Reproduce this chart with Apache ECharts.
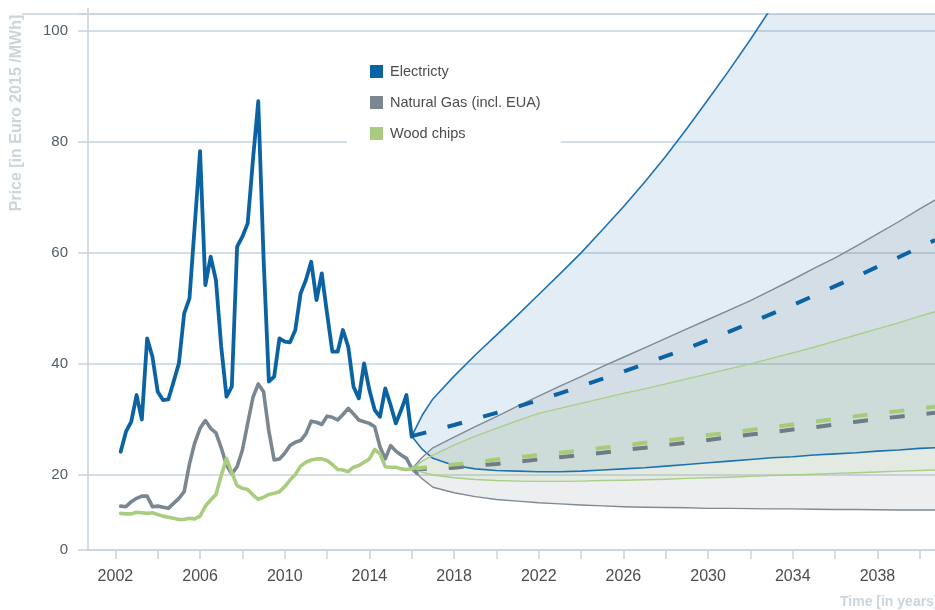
<!DOCTYPE html>
<html>
<head>
<meta charset="utf-8">
<script src="https://cdn.jsdelivr.net/npm/echarts@6/dist/echarts.min.js"></script>
<style>
  html, body { margin: 0; padding: 0; background: #ffffff; }
  #chart { width: 935px; height: 610px; }
</style>
</head>
<body>
<div id="chart"></div>
<script>
// ---- Historical quarterly prices (Euro 2015 / MWh) ----
const HIST_YEARS = [
  2002.25, 2002.5, 2002.75,
  2003, 2003.25, 2003.5, 2003.75,
  2004, 2004.25, 2004.5, 2004.75,
  2005, 2005.25, 2005.5, 2005.75,
  2006, 2006.25, 2006.5, 2006.75,
  2007, 2007.25, 2007.5, 2007.75,
  2008, 2008.25, 2008.5, 2008.75,
  2009, 2009.25, 2009.5, 2009.75,
  2010, 2010.25, 2010.5, 2010.75,
  2011, 2011.25, 2011.5, 2011.75,
  2012, 2012.25, 2012.5, 2012.75,
  2013, 2013.25, 2013.5, 2013.75,
  2014, 2014.25, 2014.5, 2014.75,
  2015, 2015.25, 2015.5, 2015.75,
  2016, 2016.25
];
const ELECTRICITY = [
  24.2, 27.8, 29.6, 34.4, 30.0, 44.6, 41.3, 35.0, 33.5, 33.6, 36.8, 40.1,
  49.1, 51.8, 65.0, 78.3, 54.2, 59.3, 55.1, 43.1, 34.1, 35.9, 61.1, 62.9,
  65.3, 76.8, 87.3, 59.0, 36.8, 37.7, 44.6, 44.0, 43.9, 46.1, 52.7, 55.1,
  58.4, 51.5, 56.3, 49.1, 42.2, 42.2, 46.1, 43.1, 35.9, 33.8, 40.1, 35.3,
  31.7, 30.5, 35.6, 32.6, 29.3, 31.7, 34.4, 26.9
];
const NATURAL_GAS = [
  14.4, 14.3, 15.2, 15.8, 16.2, 16.2, 14.3, 14.4, 14.2, 14.0, 14.9, 15.8,
  17.0, 22.0, 25.8, 28.4, 29.8, 28.4, 27.6, 24.9, 21.8, 20.2, 21.5, 24.5,
  29.3, 34.0, 36.4, 35.0, 27.9, 22.7, 22.9, 23.9, 25.3, 25.9, 26.2, 27.4,
  29.7, 29.5, 29.1, 30.6, 30.4, 29.9, 30.9, 32.0, 31.0, 29.9, 29.6, 29.3,
  28.7, 25.1, 22.9, 25.3, 24.3, 23.6, 23.0, 21.2, 20.3
];
const WOOD_CHIPS = [
  13.1, 13.0, 13.0, 13.3, 13.2, 13.1, 13.2, 12.9, 12.6, 12.4, 12.2, 12.0,
  12.0, 12.2, 12.1, 12.6, 14.4, 15.5, 16.5, 19.9, 23.0, 20.4, 18.1, 17.6,
  17.4, 16.4, 15.6, 16.0, 16.5, 16.7, 17.0, 17.9, 19.1, 20.1, 21.6, 22.3,
  22.7, 22.9, 22.9, 22.6, 21.9, 21.0, 20.9, 20.6, 21.4, 21.7, 22.3, 22.9,
  24.6, 23.8, 21.5, 21.4, 21.4, 21.1, 21.0, 21.1, 21.4
];

// ---- Projections: high / central / low paths ----
const PROJ_YEARS = [
  2016, 2016.5, 2017, 2018, 2019, 2020, 2021, 2022, 2023, 2024, 2025, 2026,
  2027, 2028, 2029, 2030, 2031, 2032, 2033, 2034, 2035, 2036, 2037, 2038,
  2039, 2040, 2040.72
];
const ELEC_HIGH = [27.0, 30.8, 33.7, 37.8, 41.6, 45.2, 48.8, 52.5, 56.2, 60.0, 64.1, 68.3, 72.7, 77.4, 82.4, 87.6, 92.9, 98.4, 104.2, 110.2, 116.4, 122.8, 129.4, 136.2, 143.2, 150.4, 155.7];
const ELEC_MID  = [27.0, 27.5, 28.0, 29.0, 30.1, 31.2, 32.3, 33.5, 34.7, 36.0, 37.3, 38.6, 40.0, 41.4, 42.8, 44.3, 45.8, 47.4, 49.0, 50.6, 52.3, 54.0, 55.7, 57.5, 59.2, 61.0, 62.3];
const ELEC_LOW  = [27.0, 24.6, 23.0, 21.7, 21.1, 20.8, 20.7, 20.6, 20.6, 20.7, 20.9, 21.1, 21.3, 21.6, 21.9, 22.2, 22.5, 22.8, 23.1, 23.3, 23.6, 23.8, 24.0, 24.3, 24.5, 24.8, 24.9];
const GAS_HIGH  = [21.1, 23.2, 24.9, 26.8, 28.7, 30.5, 32.4, 34.2, 36.0, 37.7, 39.5, 41.2, 42.9, 44.6, 46.3, 48.0, 49.7, 51.4, 53.3, 55.2, 57.2, 59.1, 61.2, 63.4, 65.6, 67.9, 69.5];
const GAS_MID   = [21.1, 21.1, 21.1, 21.3, 21.7, 22.0, 22.4, 22.8, 23.2, 23.6, 24.0, 24.5, 24.9, 25.4, 25.8, 26.3, 26.8, 27.3, 27.7, 28.2, 28.6, 29.1, 29.6, 30.1, 30.5, 30.9, 31.2];
const GAS_LOW   = [21.1, 19.3, 17.8, 16.8, 16.1, 15.6, 15.3, 15.0, 14.8, 14.6, 14.45, 14.3, 14.2, 14.15, 14.1, 14.0, 14.0, 13.95, 13.9, 13.9, 13.85, 13.8, 13.8, 13.75, 13.7, 13.7, 13.7];
const WOOD_HIGH = [21.1, 22.5, 23.6, 25.4, 27.0, 28.4, 29.8, 31.1, 32.0, 32.9, 33.8, 34.7, 35.5, 36.4, 37.3, 38.2, 39.1, 40.0, 41.0, 42.0, 43.0, 44.1, 45.2, 46.3, 47.4, 48.6, 49.4];
const WOOD_MID  = [21.1, 21.3, 21.5, 21.9, 22.3, 22.8, 23.2, 23.6, 24.0, 24.4, 24.9, 25.3, 25.8, 26.2, 26.7, 27.2, 27.6, 28.1, 28.6, 29.1, 29.6, 30.1, 30.6, 31.1, 31.5, 32.0, 32.3];
const WOOD_LOW  = [21.1, 20.5, 20.0, 19.5, 19.2, 19.0, 18.9, 18.85, 18.85, 18.9, 19.0, 19.05, 19.15, 19.25, 19.4, 19.5, 19.6, 19.75, 19.9, 20.0, 20.15, 20.3, 20.4, 20.55, 20.7, 20.8, 20.9];

// ---- Axis ticks ----
const X_TICKS  = [2002, 2004, 2006, 2008, 2010, 2012, 2014, 2016, 2018, 2020, 2022, 2024, 2026, 2028, 2030, 2032, 2034, 2036, 2038, 2040];
const X_LABELS = [2002, 2006, 2010, 2014, 2018, 2022, 2026, 2030, 2034, 2038];
// the value axis is cut below 20; its floor carries the "0" label
const Y_FLOOR = 6.5;
const Y_TOP = 103;

const NAMES = ['Electricty', 'Natural Gas (incl. EUA)', 'Wood chips'];
const COLORS = { elec: '#0b63a3', gas: '#7a8791', wood: '#a8cd7f' };

const GRID_LINE = '#c9d3dc';
const NARROW = '"Liberation Sans Narrow", "Arial Narrow", "Liberation Sans", sans-serif';

function pairs(xs, ys) {
  return ys.map((v, i) => [xs[i], v]);
}

function band(upper, lower, fill) {
  return {
    type: 'custom',
    silent: true,
    clip: true,
    z: 1,
    data: [[PROJ_YEARS[0], lower[0]]],
    renderItem: function (params, api) {
      const pts = [];
      for (let i = 0; i < PROJ_YEARS.length; i++) pts.push(api.coord([PROJ_YEARS[i], upper[i]]));
      for (let i = PROJ_YEARS.length - 1; i >= 0; i--) pts.push(api.coord([PROJ_YEARS[i], lower[i]]));
      return { type: 'polygon', shape: { points: pts }, style: { fill: fill, stroke: null } };
    }
  };
}

function line(name, xs, ys, color, width, z, dash) {
  return {
    type: 'line',
    name: name,
    data: pairs(xs, ys),
    symbol: 'none',
    showSymbol: false,
    silent: true,
    z: z,
    color: color,
    lineStyle: { color: color, width: width, type: dash || 'solid', join: 'round', cap: dash ? 'butt' : 'round' },
    clip: true
  };
}

const chart = echarts.init(document.getElementById('chart'), null, { renderer: 'canvas' });

chart.setOption({
  animation: false,
  backgroundColor: '#ffffff',
  grid: { left: 88, right: 0, top: 14, bottom: 60, containLabel: false },
  legend: {
    data: NAMES,
    orient: 'vertical',
    left: 347,
    top: 50,
    padding: [14, 20, 9, 23],
    itemGap: 16,
    itemWidth: 13,
    itemHeight: 13,
    icon: 'rect',
    backgroundColor: '#ffffff',
    selectedMode: false,
    itemStyle: { borderWidth: 0 },
    textStyle: { fontFamily: '"Liberation Sans", Arial, sans-serif', fontSize: 14.5, color: '#4d4d4d', padding: [0, 0, 0, 2] },
    z: 10
  },
  xAxis: {
    type: 'value',
    min: 2000.706,
    max: 2040.72,
    axisLine: { show: true, onZero: false, lineStyle: { color: GRID_LINE, width: 1.5 } },
    axisTick: { show: true, customValues: X_TICKS, length: 9, lineStyle: { color: GRID_LINE, width: 1.5 } },
    axisLabel: {
      customValues: X_LABELS,
      formatter: function (v) { return String(v); },
      fontFamily: NARROW,
      fontSize: 16,
      color: '#4d4d4d',
      margin: 19
    },
    splitLine: { show: false }
  },
  yAxis: {
    type: 'value',
    min: Y_FLOOR,
    max: Y_TOP,
    splitNumber: 5,
    axisLine: { show: true, onZero: false, lineStyle: { color: GRID_LINE, width: 1.5 } },
    axisTick: { show: true, length: 10, lineStyle: { color: GRID_LINE, width: 1.5 } },
    axisLabel: {
      formatter: function (v) { return v < 10 ? '0' : (v > 101 ? '' : String(v)); },
      fontFamily: '"Liberation Sans", Arial, sans-serif',
      fontSize: 15,
      color: '#505d69',
      margin: 20
    },
    splitLine: { show: true, lineStyle: { color: GRID_LINE, width: 1.5 } }
  },
  graphic: [
    { type: 'line', silent: true, z: 0, shape: { x1: 22, y1: 14, x2: 935, y2: 14 }, style: { stroke: GRID_LINE, lineWidth: 1.5 } },
    { type: 'line', silent: true, z: 0, shape: { x1: 88, y1: 8, x2: 88, y2: 14 }, style: { stroke: GRID_LINE, lineWidth: 1.5 } },
    {
      type: 'text', silent: true, x: 17, y: 113, rotation: Math.PI / 2,
      style: { text: 'Price [in Euro 2015 /MWh]', fill: '#cad5de', font: 'bold 16px "Liberation Sans", Arial, sans-serif', align: 'center', verticalAlign: 'middle' }
    },
    {
      type: 'text', silent: true, x: 840, y: 602,
      style: { text: 'Time [in years]', fill: '#cad5de', font: 'bold 14px "Liberation Sans", Arial, sans-serif', align: 'left', verticalAlign: 'middle' }
    }
  ],
  series: [
    // uncertainty ranges
    band(ELEC_HIGH, ELEC_LOW, 'rgba(10,100,164,0.115)'),
    band(GAS_HIGH, GAS_LOW, 'rgba(122,135,145,0.143)'),
    band(WOOD_HIGH, WOOD_LOW, 'rgba(166,204,122,0.12)'),
    // range boundaries
    line('elec-high', PROJ_YEARS, ELEC_HIGH, '#1d72b3', 1.6, 2),
    line('elec-low', PROJ_YEARS, ELEC_LOW, '#1d72b3', 1.6, 2),
    line('gas-high', PROJ_YEARS, GAS_HIGH, '#7f8a93', 1.4, 2),
    line('gas-low', PROJ_YEARS, GAS_LOW, '#7f8a93', 1.4, 2),
    line('wood-high', PROJ_YEARS, WOOD_HIGH, '#a9cf86', 1.4, 2),
    line('wood-low', PROJ_YEARS, WOOD_LOW, '#a9cf86', 1.4, 2),
    // central paths
    line('gas-mid', PROJ_YEARS, GAS_MID, '#6f7b85', 4, 3, [15, 22]),
    line('wood-mid', PROJ_YEARS, WOOD_MID, '#a6cc7a', 4, 3, [15, 22]),
    line('elec-mid', PROJ_YEARS, ELEC_MID, COLORS.elec, 4, 3, [15, 22]),
    // history
    line(NAMES[1], HIST_YEARS, NATURAL_GAS, COLORS.gas, 3.6, 4),
    line(NAMES[2], HIST_YEARS, WOOD_CHIPS, COLORS.wood, 3.6, 4),
    line(NAMES[0], HIST_YEARS, ELECTRICITY, COLORS.elec, 3.8, 4)
  ]
});
</script>
</body>
</html>
